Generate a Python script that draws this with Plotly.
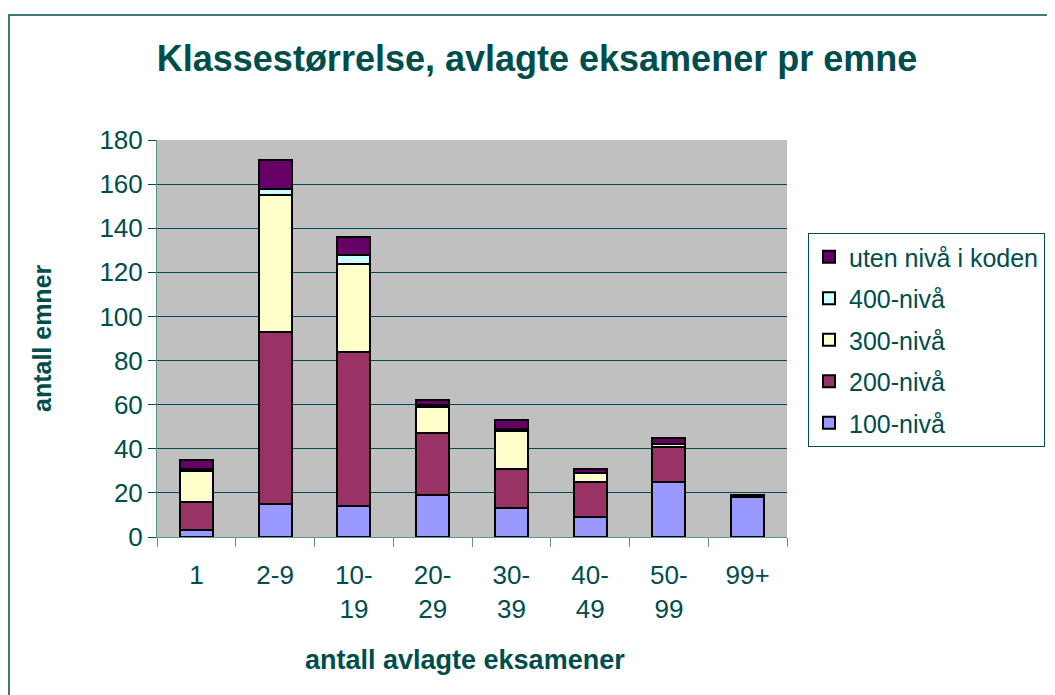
import plotly.graph_objects as go

categories = ["1", "2-9", "10-<br>19", "20-<br>29", "30-<br>39", "40-<br>49", "50-<br>99", "99+"]
niva_100 = [3, 15, 14, 19, 13, 9, 25, 18]
niva_200 = [13, 78, 70, 28, 18, 16, 16, 0]
niva_300 = [14, 62, 40, 12, 17, 4, 1, 0]
niva_400 = [1, 3, 4, 1, 1, 0, 0, 0]
uten_niva = [4, 13, 8, 2, 4, 2, 3, 1]

series_names = ["100-nivå", "200-nivå", "300-nivå", "400-nivå", "uten nivå i koden"]
series_values = [niva_100, niva_200, niva_300, niva_400, uten_niva]
series_colors = ["#9999FF", "#993366", "#FFFFCC", "#CCFFFF", "#660066"]

TEAL = "#004D4D"
FONT = "Liberation Sans, Arial, sans-serif"

fig = go.Figure()
for i, (name, vals, col) in enumerate(zip(series_names, series_values, series_colors)):
    fig.add_trace(go.Bar(
        x=categories, y=vals, name=name, legendgroup=name,
        legendrank=100 - i,
        marker=dict(color=col, line=dict(color="#000000", width=2)),
        width=0.42,
    ))

OFF = 8  # page body margin
W, H = 1055 - OFF, 695 - OFF
L, R, T, B = 157 - OFF, 787 - OFF, 140 - OFF, 537 - OFF
pw, ph = R - L, B - T

fig.update_layout(
    width=W, height=H,
    margin=dict(l=L, r=W - R, t=T, b=H - B, autoexpand=False),
    barmode="stack",
    paper_bgcolor="white",
    plot_bgcolor="#C0C0C0",
    font=dict(family=FONT, color=TEAL, size=25),
    title=dict(
        text="<b>Klassestørrelse, avlagte eksamener pr emne</b>",
        x=(537 - OFF - L) / pw, xref="paper", xanchor="center",
        y=1 - (58 - OFF) / H, yref="container", yanchor="middle",
        font=dict(size=36, color=TEAL, family=FONT),
    ),
    showlegend=True,
    legend=dict(
        x=(808 - OFF - L) / pw, xanchor="left",
        y=(B - (233 - OFF)) / ph, yanchor="top",
        traceorder="grouped",
        tracegroupgap=6,
        entrywidth=260, entrywidthmode="pixels",
        bordercolor=TEAL, borderwidth=1,
        bgcolor="white",
        font=dict(size=25, color=TEAL, family=FONT),
    ),
    xaxis=dict(
        type="category",
        showline=True, linecolor="#5F8F8F", linewidth=1,
        ticks="outside", tickson="boundaries", ticklen=9, tickcolor="#5F8F8F",
        tickfont=dict(size=26, color=TEAL),
        ticklabelstandoff=15,
        showgrid=False,
    ),
    yaxis=dict(
        range=[0, 180], dtick=20,
        showline=True, linecolor="#5F8F8F", linewidth=1,
        ticks="outside", ticklen=8, tickcolor=TEAL,
        tickfont=dict(size=26, color=TEAL),
        gridcolor=TEAL, gridwidth=1,
        zeroline=False,
    ),
)

fig.add_annotation(
    text="<b>antall avlagte eksamener</b>", xref="paper", yref="paper",
    x=(465 - OFF - L) / pw, y=(B - (660 - OFF)) / ph, showarrow=False,
    xanchor="center", yanchor="middle",
    font=dict(size=27, color=TEAL, family=FONT),
)
fig.add_annotation(
    text="<b>antall emner</b>", xref="paper", yref="paper",
    x=(42 - OFF - L) / pw, y=(B - (338 - OFF)) / ph, showarrow=False, textangle=-90,
    xanchor="center", yanchor="middle",
    font=dict(size=25, color=TEAL, family=FONT),
)

fig.add_shape(
    type="rect", xref="paper", yref="paper",
    x0=(9 - OFF - L) / pw, x1=(W + 20 - L) / pw,
    y0=(B - (H + 20)) / ph, y1=(B - (15 - OFF)) / ph,
    line=dict(color=TEAL, width=1.5), fillcolor="rgba(0,0,0,0)", layer="below",
)

fig.write_html("out.html")
